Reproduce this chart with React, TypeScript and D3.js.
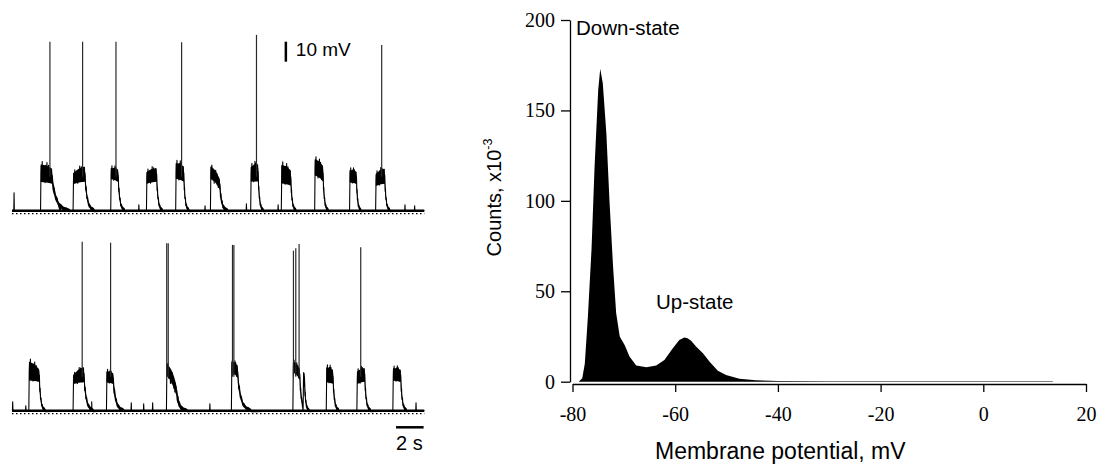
import React, { useRef, useEffect } from 'react';
import * as d3 from 'd3';

// membrane potential traces: time in s, potential in mV
const traceLength = 29.9;
const downLevel = -74;
const restLine = -75.5;

// up-states: [onset, plateau end, band top, band bottom, band top at end, band bottom at end, decay time]
const topUpStates = [
  [2.08, 2.9, -48.6, -60.2, -51, -61, 1.3],
  [4.44, 5.29, -53.6, -61.1, -50, -60, 0.7],
  [7.17, 7.7, -51.1, -58.6, -52, -60, 0.5],
  [9.76, 10.49, -53, -61, -51, -60, 0.45],
  [11.88, 12.46, -48, -58.6, -50, -60, 0.4],
  [14.4, 15.07, -50, -58.6, -57, -64, 0.6],
  [17.32, 17.85, -50, -60, -48.6, -60, 0.4],
  [19.54, 20.22, -48.6, -61, -52, -62, 0.4],
  [21.96, 22.56, -46, -57, -50, -60, 0.4],
  [24.49, 24.98, -52, -60.3, -53, -61, 0.35],
  [26.38, 27.03, -54, -62, -51, -61, 0.4],
];
const bottomUpStates = [
  [1.23, 1.98, -47, -59.5, -52, -60, 0.45],
  [4.44, 5.22, -55, -61, -50.3, -60.3, 0.7],
  [6.86, 7.34, -52.8, -60.3, -54, -61, 0.8],
  [11.21, 11.93, -48.6, -57, -60.3, -67, 0.8],
  [15.92, 16.36, -47.8, -55.3, -50, -58, 1.0],
  [20.38, 20.87, -47.8, -55.3, -52, -59, 0.5],
  [21.12, 21.22, -54.5, -60, -56, -63, 0.35],
  [22.8, 23.28, -50.3, -60.3, -52, -61, 0.45],
  [25.02, 25.58, -52.8, -61.1, -51, -60, 0.45],
  [27.63, 28.19, -51.1, -59.5, -52, -60, 0.45],
];

// action potentials: [time, peak]
const topSpikes = [[2.75, 10.5], [5.12, 10.5], [7.54, 10.5], [12.3, 10.2], [17.73, 13.9], [26.81, 8.9]];
const bottomSpikes = [
  [5.09, 10.5], [7.15, 10.0], [11.22, 9.7], [11.33, 9.7], [15.99, 8.9], [16.09, 8.9],
  [20.41, 6], [20.58, 7.2], [20.82, 9.4], [25.29, 7.7],
];

// small synaptic blips during down-states: [time, peak]
const topBlips = [[0.15, -65], [3.5, -71.5], [9.2, -71], [14.0, -71.5], [17.0, -70.5], [19.3, -71], [28.5, -71], [29.2, -71.5]];
const bottomBlips = [[0.05, -69.5], [1.0, -71.5], [5.78, -69.5], [8.65, -70], [9.55, -70.5], [10.2, -70], [14.35, -70.5], [29.3, -70]];

// noise pattern across a plateau (0 = band bottom, 1 = band top) and decay profile
const upNoise = [0.4, 0.75, 0.25, 0.6, 0.95, 0.35, 0.55, 0.15, 0.7, 0.45, 0.8, 0.3, 0.6, 0.05, 0.5, 0.85, 0.4, 0.65,
  0.25, 1.0, 0.45, 0.7, 0.3, 0.55, 0.9, 0.2, 0.6, 0.4, 0.75, 0.1, 0.5, 0.8, 0.35, 0.65, 0.2, 0.5];
const decayShape = [[0.03, 0.8], [0.08, 0.62], [0.13, 0.55], [0.2, 0.38], [0.28, 0.3], [0.37, 0.18], [0.48, 0.13], [0.62, 0.07], [0.8, 0.04], [1, 0]];

// histogram of membrane potential
const histMv = [-78.8, -78.1, -77.6, -77.0, -76.3, -75.7, -75.0, -74.6, -74.1, -73.4, -72.8, -72.1, -71.5, -70.8, -70.3, -69.8, -68.9, -67.6, -65.6, -63.7, -62.1, -60.5, -59.2, -58.2, -57.6, -56.9, -55.9, -54.6, -53.3, -51.7, -50.1, -47.5, -44.3, -40, -30, -20, 0, 13.5, 13.6];
const histCounts = [0, 1.9, 10, 36, 73, 119, 161, 173, 165, 137, 100, 63.5, 38, 25, 22.5, 20, 14, 9, 8, 9, 12, 18.4, 23, 24.5, 24, 22.6, 19.3, 15.7, 11, 6, 3.7, 1.7, 0.8, 0.45, 0.3, 0.25, 0.25, 0.25, 0];
const mvTicks = [-80, -60, -40, -20, 0, 20];
const countTicks = [0, 50, 100, 150, 200];

const sans = '"Liberation Sans", Arial, sans-serif';
const serif = '"Liberation Serif", "Times New Roman", serif';

const traceX = d3.scaleLinear().domain([0, traceLength]).range([12, 424.3]);
const topY = d3.scaleLinear().domain([downLevel, 10.5]).range([210.7, 41.7]);
const bottomY = topY.copy().range([410.7, 241.7]);

const histX = d3.scaleLinear().domain([-80, 20]).range([572.5, 1086]);
const histY = d3.scaleLinear().domain([0, 200]).range([381.7, 20]);

function buildTrace(upStates: number[][], blips: number[][]) {
  const pts: [number, number][] = [[0, downLevel]];
  upStates.forEach((u, i) => {
    const [on, off, hi, lo, hiEnd, loEnd, tau] = u;
    const next = i < upStates.length - 1 ? upStates[i + 1][0] : traceLength;
    pts.push([on - 0.01, downLevel]);
    const n = upNoise.length;
    upNoise.forEach((f, k) => {
      const p = k / (n - 1);
      const t = on + 0.02 + p * (off - on - 0.02);
      const top = hi + p * (hiEnd - hi);
      const bot = lo + p * (loEnd - lo);
      pts.push([t, bot + f * (top - bot)]);
    });
    const mid = (hiEnd + loEnd) / 2;
    decayShape.forEach(([s, f], k) => {
      const t = off + s * tau;
      const wob = k % 2 === 0 ? 1 : -1;
      if (t < next - 0.02) pts.push([t, downLevel + f * (mid - downLevel) + wob * (0.5 + f * 1.5)]);
    });
  });
  blips.forEach(([t, v]) => {
    pts.push([t - 0.02, downLevel], [t, v], [t + 0.02, downLevel]);
  });
  pts.push([traceLength, downLevel]);
  return pts.sort((a, b) => a[0] - b[0]);
}

// dense core of each up-state: [time, low, high]
function buildBands(upStates: number[][]) {
  return upStates.map((u, i) => {
    const [on, off, hi, lo, hiEnd, loEnd, tau] = u;
    const next = i < upStates.length - 1 ? upStates[i + 1][0] : traceLength;
    const band: [number, number, number][] = [
      [on, lo + 0.05 * (hi - lo), lo + 0.8 * (hi - lo)],
      [off, loEnd + 0.05 * (hiEnd - loEnd), loEnd + 0.8 * (hiEnd - loEnd)],
    ];
    const mid = (hiEnd + loEnd) / 2;
    decayShape.forEach(([s, f]) => {
      const t = off + s * tau;
      const c = downLevel + f * (mid - downLevel);
      const w = 0.8 + f * 2.6;
      if (t < next - 0.02) band.push([t, c - w, c + w]);
    });
    return band;
  });
}

const Trace = ({ y, upStates, spikes, blips }) => {
  const line = d3.line<[number, number]>()
    .x(d => traceX(d[0]))
    .y(d => y(d[1]));
  const bandArea = d3.area<[number, number, number]>()
    .x(d => traceX(d[0]))
    .y0(d => y(d[1]))
    .y1(d => y(d[2]))
    .curve(d3.curveMonotoneX);
  const pts = buildTrace(upStates, blips);
  const bands = buildBands(upStates);
  return (
    <g>
      <line x1={traceX(0)} x2={traceX(traceLength)} y1={y(restLine)} y2={y(restLine)}
        stroke="#000" strokeWidth={1.2} strokeDasharray="1.5 2.5" />
      <line x1={traceX(0)} x2={traceX(traceLength)} y1={y(downLevel)} y2={y(downLevel)}
        stroke="#000" strokeWidth={2.4} />
      {bands.map((b, i) => (
        <path key={i} d={bandArea(b) || ''} fill="#000" />
      ))}
      <path d={line(pts) || ''} fill="none" stroke="#000" strokeWidth={1.1} strokeLinejoin="round" />
      {spikes.map(([t, peak], i) => (
        <line key={i} x1={traceX(t)} x2={traceX(t)} y1={y(-57)} y2={y(peak)} stroke="#2a2a2a" strokeWidth={1.2} />
      ))}
    </g>
  );
};

const App = () => {
  const xAxisRef = useRef<SVGGElement>(null);
  const yAxisRef = useRef<SVGGElement>(null);

  useEffect(() => {
    const xg = d3.select(xAxisRef.current);
    xg.call(d3.axisBottom(histX).tickValues(mvTicks).tickSize(8).tickSizeOuter(0).tickPadding(15).tickFormat(d => String(d)));
    const yg = d3.select(yAxisRef.current);
    yg.call(d3.axisLeft(histY).tickValues(countTicks).tickSize(9).tickSizeOuter(0).tickPadding(6).tickFormat(d => String(d)));
    [xg, yg].forEach(g => {
      g.attr('font-family', serif).attr('font-size', 20);
      g.selectAll('path, line').attr('stroke', '#000').attr('stroke-width', 1.3);
      g.selectAll('text').attr('fill', '#000');
    });
  }, []);

  const area = d3.area<number>()
    .x((d, i) => histX(histMv[i]))
    .y0(histY(0))
    .y1(d => histY(d));

  return (
    <svg width={1099} height={465} style={{ position: 'absolute', left: 0, top: 0, background: '#fff' }}>
      <Trace y={topY} upStates={topUpStates} spikes={topSpikes} blips={topBlips} />
      <Trace y={bottomY} upStates={bottomUpStates} spikes={bottomSpikes} blips={bottomBlips} />

      {/* scale bars */}
      <line x1={traceX(19.86)} x2={traceX(19.86)} y1={topY(10.5)} y2={topY(0.5)} stroke="#000" strokeWidth={2.5} />
      <text x={traceX(19.86) + 10} y={topY(3.2)} fontFamily={sans} fontSize={19}>10 mV</text>
      <line x1={traceX(27.85)} x2={traceX(29.85)} y1={bottomY(-82.3)} y2={bottomY(-82.3)} stroke="#000" strokeWidth={2.5} />
      <text x={traceX(27.85)} y={450} fontFamily={sans} fontSize={20}>2 s</text>

      {/* histogram */}
      <path d={area(histCounts) || ''} fill="#000" />
      <g ref={xAxisRef} transform="translate(0,384)" />
      <g ref={yAxisRef} transform="translate(570,0)" />
      <text x={576} y={35} fontFamily={sans} fontSize={20.5}>Down-state</text>
      <text x={656} y={309} fontFamily={sans} fontSize={20.5}>Up-state</text>
      <text x={655} y={459} fontFamily={sans} fontSize={23}>Membrane potential, mV</text>
      <text transform="translate(501,197.5) rotate(-90)" textAnchor="middle" fontFamily={sans} fontSize={20}>
        Counts, x10<tspan fontSize={12.5} dy={-9}>-3</tspan>
      </text>
    </svg>
  );
};

export default App;
